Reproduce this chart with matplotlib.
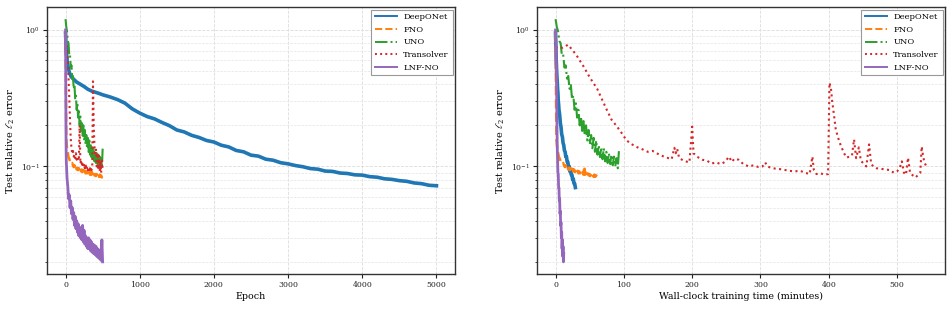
import matplotlib
matplotlib.use("Agg")
import matplotlib.pyplot as plt
import numpy as np

plt.rcParams['font.family'] = ['DejaVu Serif']
plt.rcParams['mathtext.fontset'] = 'dejavuserif'

# ---------------- Left panel: error vs epoch ----------------
deeponet_epoch = [0, 10, 25, 50, 75, 100, 150, 200, 250, 300, 350, 400, 450] + list(range(500, 5001, 100))
deeponet_err = [0.95, 0.70, 0.57, 0.49, 0.455, 0.44, 0.415, 0.40, 0.385, 0.368, 0.357, 0.350, 0.343,
                0.335, 0.323, 0.309, 0.291, 0.264, 0.246, 0.232, 0.223, 0.210, 0.199,
                0.185, 0.179, 0.169, 0.163, 0.155, 0.151, 0.143, 0.139, 0.131, 0.128,
                0.121, 0.119, 0.113, 0.111, 0.1065, 0.1045, 0.1015, 0.0995, 0.0965, 0.0955,
                0.0925, 0.092, 0.0895, 0.0888, 0.0868, 0.0864, 0.0842, 0.0834, 0.0812, 0.0804,
                0.0787, 0.0778, 0.0757, 0.0748, 0.0728, 0.0722]

fno_epoch = [0, 5, 10, 20, 30, 40, 50, 60, 70, 80, 90] + list(range(100, 501, 10))
fno_err = [0.95, 0.35, 0.16, 0.135, 0.126, 0.117, 0.114, 0.109, 0.109, 0.105, 0.106,
           0.102, 0.099, 0.102, 0.097, 0.100, 0.095, 0.098, 0.094, 0.097, 0.093,
           0.096, 0.092, 0.095, 0.091, 0.094, 0.090, 0.093, 0.089, 0.092, 0.089,
           0.091, 0.088, 0.091, 0.087, 0.100, 0.087, 0.090, 0.086, 0.089, 0.086,
           0.088, 0.085, 0.088, 0.085, 0.087, 0.084, 0.087, 0.084, 0.086, 0.083, 0.085]

uno_epoch = list(range(0, 501, 10))
uno_err = [1.2, 1.05, 0.98, 0.83, 0.80, 0.65, 0.66, 0.53, 0.55, 0.44,
           0.46, 0.37, 0.40, 0.31, 0.33, 0.26, 0.29, 0.228, 0.26, 0.20,
           0.232, 0.182, 0.215, 0.168, 0.20, 0.155, 0.185, 0.145, 0.17, 0.136,
           0.162, 0.128, 0.155, 0.122, 0.143, 0.117, 0.138, 0.113, 0.136, 0.109,
           0.128, 0.106, 0.125, 0.104, 0.122, 0.102, 0.118, 0.100, 0.115, 0.097, 0.135]

transolver_epoch = list(range(0, 501, 10))
transolver_err = [0.72, 0.78, 0.74, 0.62, 0.45, 0.32, 0.22, 0.16, 0.135, 0.125,
                  0.13, 0.118, 0.122, 0.115, 0.125, 0.112, 0.118, 0.110, 0.115, 0.20,
                  0.105, 0.112, 0.100, 0.108, 0.098, 0.105, 0.097, 0.103, 0.095, 0.100,
                  0.094, 0.099, 0.092, 0.097, 0.091, 0.095, 0.098, 0.42, 0.20, 0.14,
                  0.12, 0.135, 0.10, 0.125, 0.095, 0.12, 0.092, 0.11, 0.09, 0.115, 0.095]

lnfno_epoch = [0, 2, 4, 6, 8, 10, 15, 20] + list(range(30, 501, 10))
lnfno_err = [1.0, 0.6, 0.3, 0.18, 0.13, 0.11, 0.095, 0.082,
             0.072, 0.058, 0.062, 0.050, 0.056, 0.045, 0.050, 0.041, 0.046, 0.037,
             0.043, 0.035, 0.040, 0.033, 0.038, 0.031, 0.036, 0.030, 0.035, 0.029,
             0.037, 0.028, 0.034, 0.027, 0.031, 0.026, 0.030, 0.025, 0.030, 0.025,
             0.029, 0.024, 0.028, 0.0235, 0.027, 0.023, 0.0265, 0.0225, 0.026, 0.022,
             0.025, 0.0215, 0.0245, 0.021, 0.024, 0.0205, 0.029, 0.020]

# ---------------- Right panel: error vs wall-clock minutes ----------------
deeponet_min = [0, 0.5, 1, 1.5, 2, 2.5, 3, 3.5, 4, 4.5, 5, 6, 7, 8, 9, 10, 11, 12, 13, 14,
                15, 16, 17, 18, 19, 20, 21, 22, 23, 24, 25, 26, 27, 28, 29]
deeponet_err_t = [0.95, 0.75, 0.60, 0.52, 0.46, 0.42, 0.37, 0.345, 0.30, 0.285, 0.26, 0.24,
                  0.208, 0.195, 0.172, 0.165, 0.149, 0.143, 0.131, 0.128, 0.118, 0.118,
                  0.108, 0.108, 0.099, 0.1, 0.092, 0.094, 0.087, 0.087, 0.08, 0.081, 0.075,
                  0.075, 0.07]

fno_total_min = 62.0
uno_total_min = 93.0

lnfno_min = [0, 0.5, 1, 1.5, 2, 2.5, 3, 3.5, 4, 4.5, 5, 5.5, 6, 6.5, 7, 7.5, 8, 8.5, 9,
             9.5, 10, 10.5, 11, 11.5, 12]
lnfno_err_t = [1.0, 0.8, 0.6, 0.4, 0.22, 0.14, 0.11, 0.09, 0.088, 0.07, 0.07, 0.056,
               0.058, 0.045, 0.047, 0.037, 0.039, 0.030, 0.033, 0.025, 0.029, 0.022,
               0.026, 0.020, 0.023]

transolver_min = [0, 5, 10, 15, 18, 22, 30, 41, 50, 61, 68, 75, 82, 90, 97, 104, 112, 120,
                  128, 135, 142, 148, 155, 163, 170, 174, 176, 178, 181, 188, 196, 200,
                  202, 207, 215, 222, 228, 235, 242, 248, 254, 258, 262, 268, 275, 283,
                  290, 297, 303, 307, 310, 318, 325, 333, 341, 350, 358, 365, 372, 376,
                  378, 382, 388, 394, 399, 401, 403, 405, 408, 410, 413, 417, 422, 426,
                  430, 434, 437, 440, 444, 447, 451, 455, 459, 462, 465, 470, 477, 483,
                  490, 495, 500, 504, 507, 510, 513, 516, 519, 523, 527, 531, 534, 536,
                  538, 540, 543]
transolver_err_t = [0.74, 0.75, 0.74, 0.76, 0.78, 0.74, 0.66, 0.54, 0.45, 0.37, 0.31, 0.26,
                    0.22, 0.196, 0.175, 0.155, 0.145, 0.138, 0.133, 0.128, 0.13, 0.125,
                    0.12, 0.116, 0.113, 0.137, 0.125, 0.135, 0.115, 0.11, 0.107, 0.196,
                    0.125, 0.118, 0.112, 0.11, 0.105, 0.107, 0.104, 0.108, 0.118, 0.108,
                    0.114, 0.112, 0.104, 0.1, 0.102, 0.099, 0.1, 0.107, 0.1, 0.097, 0.096,
                    0.095, 0.093, 0.092, 0.093, 0.09, 0.088, 0.118, 0.095, 0.088, 0.089,
                    0.087, 0.088, 0.41, 0.38, 0.30, 0.23, 0.19, 0.166, 0.145, 0.126,
                    0.116, 0.118, 0.12, 0.158, 0.115, 0.138, 0.11, 0.105, 0.1, 0.145,
                    0.105, 0.1, 0.097, 0.096, 0.095, 0.094, 0.09, 0.092, 0.098, 0.109,
                    0.09, 0.087, 0.116, 0.09, 0.086, 0.083, 0.087, 0.09, 0.14, 0.12,
                    0.107, 0.1]

labels = ["DeepONet", "FNO", "UNO", "Transolver", "LNF-NO"]
colors = ["#1f77b4", "#ff7f0e", "#2ca02c", "#d62728", "#9467bd"]
styles = ["-", "--", "-.", ":", "-"]
widths = [2.6, 1.8, 1.5, 1.5, 2.0]

fig = plt.figure(figsize=(9.5, 3.09), dpi=100)
ax1 = fig.add_axes([47 / 950, 35 / 309, 408 / 950, 267 / 309])
ax2 = fig.add_axes([537 / 950, 35 / 309, 408 / 950, 267 / 309])

left_data = [(deeponet_epoch, deeponet_err), (fno_epoch, fno_err), (uno_epoch, uno_err),
             (transolver_epoch, transolver_err), (lnfno_epoch, lnfno_err)]
right_data = [(deeponet_min, deeponet_err_t),
              (np.array(fno_epoch) * fno_total_min / 500.0, fno_err),
              (np.array(uno_epoch) * uno_total_min / 500.0, uno_err),
              (transolver_min, transolver_err_t),
              (lnfno_min, lnfno_err_t)]

for ax, data, xlabel in [(ax1, left_data, "Epoch"),
                         (ax2, right_data, "Wall-clock training time (minutes)")]:
    for (x, y), lab, c, ls, lw in zip(data, labels, colors, styles, widths):
        ax.plot(x, y, color=c, ls=ls, lw=lw, label=lab)
    ax.set_yscale('log')
    ax.set_axisbelow(True)
    ax.grid(True, which='major', ls='--', lw=0.6, color='#dcdcdc')
    ax.grid(True, which='minor', axis='y', ls='--', lw=0.5, color='#e4e4e4')
    ax.set_xlabel(xlabel, fontsize=6.8, labelpad=2)
    ax.set_ylabel(r"Test relative $\ell_2$ error", fontsize=7.0, labelpad=3)
    ax.tick_params(which='major', direction='out', length=3, width=0.8, labelsize=5.6,
                   colors='#222222', pad=2)
    ax.tick_params(which='minor', direction='out', length=1.8, width=0.6, colors='#222222')
    for sp in ax.spines.values():
        sp.set_color('#333333')
        sp.set_linewidth(1.0)
    leg = ax.legend(loc='upper right', fontsize=6.0, fancybox=False, edgecolor='#999999',
                    framealpha=1.0, handlelength=2.6, borderpad=0.45, labelspacing=0.55,
                    borderaxespad=0.3)
    leg.get_frame().set_linewidth(0.8)
    for l in leg.get_lines():
        l.set_linewidth(1.4)

ax1.set_xticks([0, 1000, 2000, 3000, 4000, 5000])
ax2.set_xticks([0, 100, 200, 300, 400, 500])

fig.savefig("out.png", dpi=100)
